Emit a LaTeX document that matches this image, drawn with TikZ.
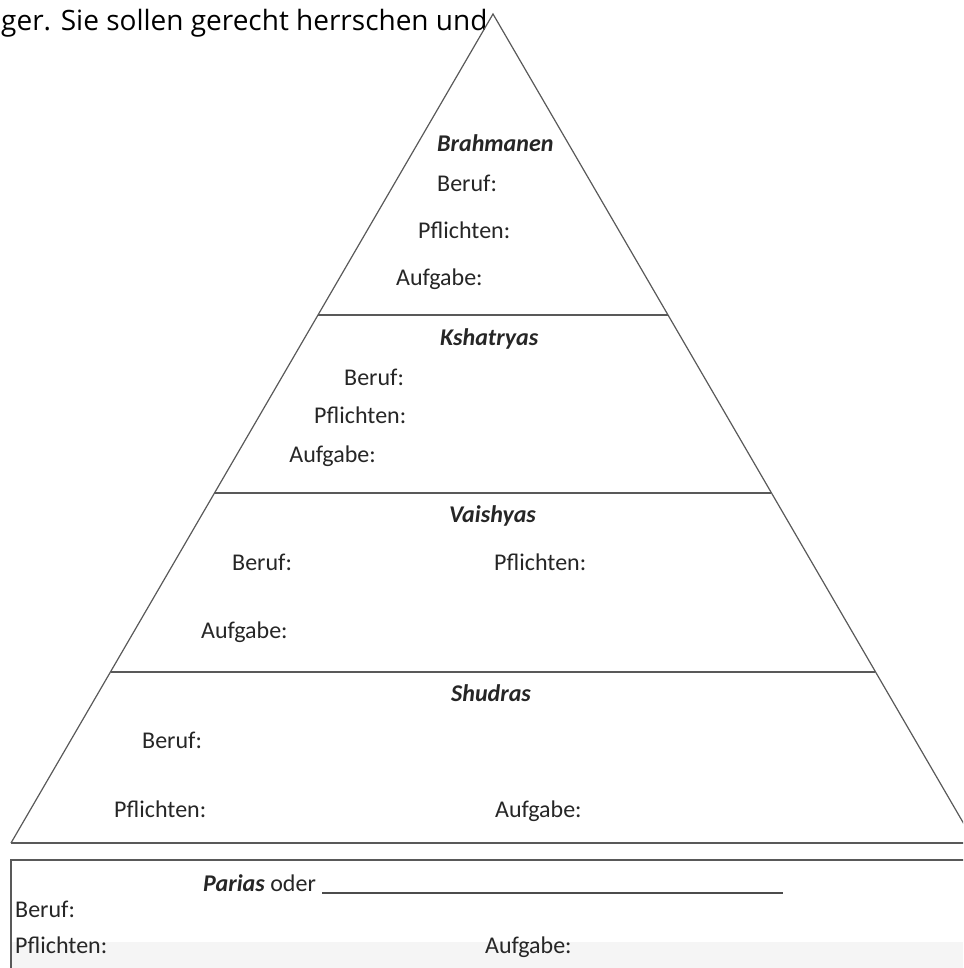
\documentclass[tikz,border=0pt]{standalone}
\usepackage{fontspec}
\setmainfont{Carlito}
\newfontfamily\topfont{Open Sans}
\begin{document}
\begin{tikzpicture}[x=1pt,y=-1pt,
  edge/.style={draw=black!65,line width=1.2pt},
  lbl/.style={inner sep=0pt,anchor=base west,font=\fontsize{24}{28}\selectfont,text=black!85},
  caste/.style={lbl,font=\fontsize{24}{28}\selectfont\bfseries\itshape}]
\useasboundingbox (0,0) rectangle (963,968);
\clip (0,0) rectangle (963,968);
% bottom grey band
\fill[black!4] (11,942) rectangle (963,968);
% top text
\node[inner sep=0pt,anchor=base west,font=\topfont\fontsize{28}{32}\selectfont] (top) at (1,31) {ger. Sie sollen gerecht herrschen und};
% pyramid
\coordinate (apex) at (493,14);
\coordinate (bl) at (11,843);
\coordinate (br) at (975,843);
\coordinate (l1) at (318,315); \coordinate (r1) at (668,315);
\coordinate (l2) at (215,493); \coordinate (r2) at (771,493);
\coordinate (l3) at (111,672); \coordinate (r3) at (875,672);
\draw[edge,line join=miter] (bl) -- (apex) -- (br);
\draw[edge] (bl) -- (br);
\draw[edge] (l1) -- (r1);
\draw[edge] (l2) -- (r2);
\draw[edge] (l3) -- (r3);
% bottom box
\draw[edge] (990,860) -- (11,860) -- (11,990);
% Brahmanen
\node[caste] (b0) at (437,152) {Brahmanen};
\node[lbl] (b1) at (437,192) {Beruf:};
\node[lbl] (b2) at (418,238) {Pflichten:};
\node[lbl] (b3) at (396,285) {Aufgabe:};
% Kshatryas
\node[caste] (k0) at (440,345) {Kshatryas};
\node[lbl] (k1) at (344,385) {Beruf:};
\node[lbl] (k2) at (314,423) {Pflichten:};
\node[lbl,anchor=base east] (k3) at (376,462) {Aufgabe:};
% Vaishyas
\node[caste] (v0) at (449,522) {Vaishyas};
\node[lbl] (v1) at (232,570) {Beruf:};
\node[lbl] (v2) at (494,570) {Pflichten:};
\node[lbl] (v3) at (201,638) {Aufgabe:};
% Shudras
\node[caste] (s0) at (451,701) {Shudras};
\node[lbl] (s1) at (142,748) {Beruf:};
\node[lbl] (s2) at (114,817) {Pflichten:};
\node[lbl] (s3) at (495,817) {Aufgabe:};
% Parias
\node[lbl] (p0) at (203,891) {\textbf{\textit{Parias}} oder};
\coordinate (pl) at (783,893);
\draw[draw=black!70,line width=1.2pt] ([xshift=6pt,yshift=-2pt]p0.base east) -- (pl);
\node[lbl] (p1) at (15,917) {Beruf:};
\node[lbl] (p2) at (15,953) {Pflichten:};
\node[lbl] (p3) at (485,953) {Aufgabe:};
\end{tikzpicture}
\end{document}
